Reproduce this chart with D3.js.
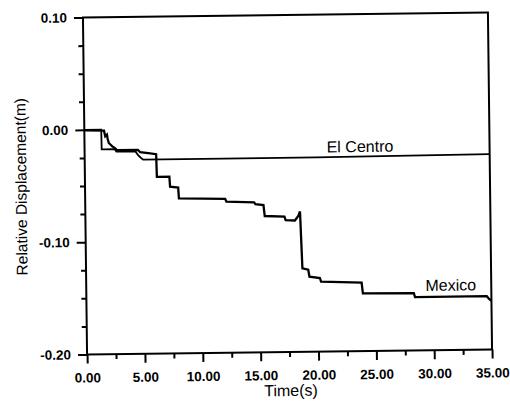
<!DOCTYPE html>
<html>
<head>
<meta charset="utf-8">
<script src="https://cdn.jsdelivr.net/npm/d3@7"></script>
<style>
  html, body { margin: 0; padding: 0; background: #fff; }
  svg { display: block; }
</style>
</head>
<body>
<svg id="chart" width="510" height="403"></svg>
<script>
// ---- data (time s, relative displacement m) ----
const xTicks = [0, 5, 10, 15, 20, 25, 30, 35];
const yTicks = [-0.20, -0.10, 0.00, 0.10];
const xTitle = "Time(s)";
const yTitle = "Relative Displacement(m)";

const elCentroT = [0, 1.46, 1.48, 2.6, 2.75, 4.4, 4.6, 4.85, 5.05, 12, 20, 28, 35];
const elCentroV = [0, 0, -0.0176, -0.0176, -0.0198, -0.0198, -0.023, -0.0255, -0.0272, -0.0272, -0.027, -0.0265, -0.026];

const mexicoT = [0, 1.7, 1.8, 1.95, 2.0, 2.1, 2.4, 2.6, 2.8, 4.6, 4.8, 5.5, 6.18, 6.22, 7.3, 7.35, 8.05, 8.1, 12.1, 12.2, 14.6, 14.7, 15.4, 15.5, 17.2, 17.3, 18.1, 18.4, 18.55, 18.7, 19.2, 19.3, 20.2, 20.3, 23.8, 23.9, 28.3, 28.4, 34.6, 34.8, 35];
const mexicoV = [-0.0005, -0.001, -0.006, -0.0045, -0.008, -0.012, -0.015, -0.0165, -0.0185, -0.0185, -0.0205, -0.0215, -0.0225, -0.0426, -0.0426, -0.0516, -0.0525, -0.062, -0.063, -0.0655, -0.0665, -0.068, -0.069, -0.0787, -0.0795, -0.0825, -0.083, -0.079, -0.075, -0.1257, -0.127, -0.1332, -0.1345, -0.1378, -0.139, -0.1486, -0.149, -0.1525, -0.1525, -0.155, -0.1566];

const labelNames = ["El Centro", "Mexico"];
const labelT = [23.8, 31.5];
const labelV = [-0.0228, -0.1472];

// ---- layout ----
const mL = 85, mR = 490, mT = 15, mB = 352;
const svg = d3.select("#chart");
const g = svg.append("g").attr("transform", "rotate(-0.7, 287.7, 183.8)");

const x = d3.scaleLinear().domain([0, 35]).range([mL, mR]);
const y = d3.scaleLinear().domain([-0.2, 0.1]).range([mB, mT]);

const fmt = d => (Math.abs(d) < 1e-9 ? 0 : d).toFixed(2);
const font = "'Liberation Sans', Arial, Helvetica, sans-serif";

// minor ticks
const xMinor = d3.range(2.5, 35, 5);
const yMinor = d3.range(-0.2, 0.1001, 0.025).filter(v => Math.abs(Math.round(v * 10) - v * 10) > 1e-6);

const gxMinor = g.append("g").attr("transform", `translate(0,${mB})`)
  .call(d3.axisBottom(x).tickValues(xMinor).tickSize(5).tickFormat(""));
const gyMinor = g.append("g").attr("transform", `translate(${mL},0)`)
  .call(d3.axisLeft(y).tickValues(yMinor).tickSize(5).tickFormat(""));

const gx = g.append("g").attr("transform", `translate(0,${mB})`)
  .call(d3.axisBottom(x).tickValues(xTicks).tickSize(9).tickFormat(fmt));
const gy = g.append("g").attr("transform", `translate(${mL},0)`)
  .call(d3.axisLeft(y).tickValues(yTicks).tickSize(9).tickPadding(7).tickFormat(fmt));

[gxMinor, gyMinor, gx, gy].forEach(a => {
  a.select(".domain").remove();
  a.selectAll(".tick line").attr("stroke", "#000").attr("stroke-width", 2);
});

gx.selectAll(".tick text")
  .attr("y", 28).attr("dy", 0)
  .attr("font-family", font).attr("font-size", 13.5).attr("font-weight", "bold").attr("fill", "#000");
gy.selectAll(".tick text")
  .attr("font-family", font).attr("font-size", 13.5).attr("font-weight", "bold").attr("fill", "#000");

// frame
g.append("rect")
  .attr("x", mL).attr("y", mT)
  .attr("width", mR - mL).attr("height", mB - mT)
  .attr("fill", "none").attr("stroke", "#000").attr("stroke-width", 2);

// curves
const line = d3.line().x(d => x(d[0])).y(d => y(d[1]));
const elCentro = elCentroT.map((t, i) => [t, elCentroV[i]]);
const mexico = mexicoT.map((t, i) => [t, mexicoV[i]]);

g.append("path").datum(elCentro).attr("d", line)
  .attr("fill", "none").attr("stroke", "#000").attr("stroke-width", 1.8);
g.append("path").datum(mexico).attr("d", line)
  .attr("fill", "none").attr("stroke", "#000").attr("stroke-width", 2.3);

// labels
labelNames.forEach((n, i) => {
  g.append("text")
    .attr("x", x(labelT[i])).attr("y", y(labelV[i]))
    .attr("text-anchor", "middle")
    .attr("font-family", font).attr("font-size", 16).attr("fill", "#000")
    .text(n);
});

// axis titles
g.append("text")
  .attr("x", (mL + mR) / 2 + 1).attr("y", 396)
  .attr("text-anchor", "middle")
  .attr("font-family", font).attr("font-size", 16).attr("fill", "#000")
  .text(xTitle);

g.append("text")
  .attr("transform", `translate(21,${(mT + mB) / 2}) rotate(-90)`)
  .attr("text-anchor", "middle").attr("dy", "0.35em")
  .attr("font-family", font).attr("font-size", 15.5).attr("fill", "#000")
  .text(yTitle);
</script>
</body>
</html>
